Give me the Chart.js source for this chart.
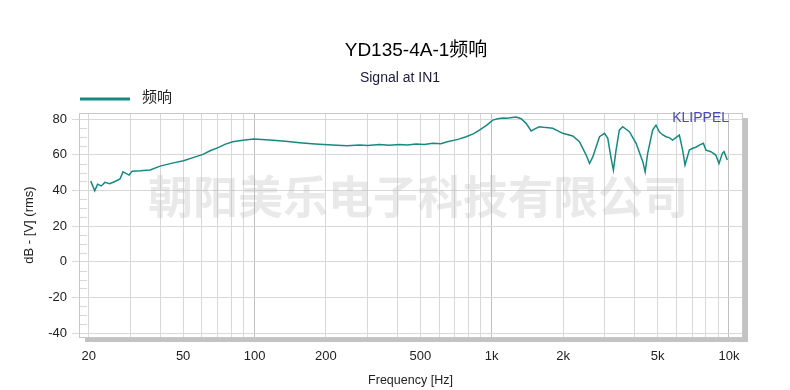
<!DOCTYPE html>
<html>
<head>
<meta charset="utf-8">
<title>YD135-4A-1频响</title>
<script src="https://cdn.jsdelivr.net/npm/chart.js@4.4.1/dist/chart.umd.min.js"></script>
<style>
	html, body { margin: 0; padding: 0; background: #fff; }
	#chart_wrap { width: 790px; height: 390px; position: relative; }
</style>
</head>
<body>
<div id="chart_wrap"><canvas id="chart_frekuensi"></canvas></div>
<script>
// frequency [Hz] of every point
var freqs = [
	20.4, 21.2, 21.8, 22.6, 23.4, 24.5, 25.8, 27.1, 27.9, 28.7, 29.6, 30.5, 33, 36.3, 40,
	45, 50.2, 55, 60.6, 65, 70.6, 75, 80.9, 90.9, 99.2, 115.9, 135, 155, 180, 213,
	245, 277, 300, 336, 370, 408, 440, 480, 520, 564, 610, 650, 720, 780, 840,
	887, 950, 1010, 1060, 1113, 1160, 1200, 1267, 1330, 1396, 1466, 1520, 1588, 1650, 1700,
	1807, 1900, 1992, 2194, 2343, 2501, 2584, 2669, 2847, 2988, 3084, 3186, 3258, 3343, 3450,
	3564, 3805, 4061, 4333, 4434, 4543, 4767, 4925, 5086, 5250, 5426, 5600, 5790, 6178, 6379,
	6528, 6808, 7030, 7250, 7500, 7800, 8002, 8393, 8600, 8800, 9080, 9380, 9530, 9840
];
// level [dB] at those frequencies
var levels = [
	45.2, 39.8, 43.5, 42.5, 44.5, 43.8, 45.0, 46.4, 50.4, 49.5, 48.6, 50.8, 51.0, 51.4, 53.6,
	55.3, 56.6, 58.4, 60.2, 62.2, 64.1, 65.8, 67.3, 68.2, 68.8, 68.2, 67.5, 66.7, 66.0, 65.4,
	65.0, 65.4, 65.2, 65.7, 65.3, 65.8, 65.4, 66.0, 65.7, 66.4, 66.2, 67.3, 68.6, 70.1, 71.8,
	73.8, 76.5, 79.4, 80.2, 80.6, 80.4, 80.8, 81.2, 80.2, 77.6, 73.3, 74.5, 75.7, 75.4, 75.3,
	74.8, 73.4, 72.0, 70.5, 67.3, 59.8, 55.1, 58.9, 70.1, 72.0, 69.2, 58.0, 51.4, 62.6, 73.8,
	75.7, 72.9, 66.4, 56.1, 50.4, 60.8, 73.8, 76.6, 72.9, 71.2, 70.1, 69.6, 68.2, 71.0, 62.6,
	54.2, 62.6, 63.6, 64.2, 65.4, 66.4, 62.6, 61.7, 60.8, 59.8, 55.1, 60.8, 61.7, 57.0
];

var gridFreqs = [];
[10, 100, 1000].forEach(function (dec) {
	for (var k = 2; k <= 10; k++) { gridFreqs.push(dec * k); }
});
var labelFreqs = [20, 50, 100, 200, 500, 1000, 2000, 5000, 10000];
var labelTexts = ['20', '50', '100', '200', '500', '1k', '2k', '5k', '10k'];
var dbTicks = [-40, -20, 0, 20, 40, 60, 80];

var judul = 'YD135-4A-1频响';
var subJudul = 'Signal at IN1';
var namaSeri = '频响';
var watermark = '朝阳美乐电子科技有限公司';

var warnaKurva = '#178a80';
var warnaGrid = '#d8d8d8';
var fontDasar = '"Liberation Sans", Arial, "Noto Sans CJK SC", sans-serif';

var grafik = {
	startUp: function () {
		window.onload = function () {
			grafik.chartFrekuensi();
		};
	}, // end - startUp

	hiasan: {
		id: 'hiasan',
		beforeDraw: function (chart) {
			var ctx = chart.ctx;
			var a = chart.chartArea;
			ctx.save();
			// shadow of the plot frame
			ctx.fillStyle = '#c3c3c3';
			ctx.fillRect(a.left + 6, a.top + 5, a.right - a.left, a.bottom - a.top);
			ctx.fillStyle = '#ffffff';
			ctx.fillRect(a.left, a.top, a.right - a.left, a.bottom - a.top);
			ctx.restore();
		},
		beforeDatasetsDraw: function (chart) {
			var ctx = chart.ctx;
			var a = chart.chartArea;
			var y = chart.scales.y;
			ctx.save();

			// watermark
			ctx.fillStyle = 'rgba(175, 175, 175, 0.28)';
			ctx.font = 'bold 45px "Noto Sans CJK SC", sans-serif';
			ctx.textAlign = 'center';
			ctx.textBaseline = 'middle';
			ctx.fillText(watermark, 418, 197);

			// minor ticks every 5 dB
			ctx.strokeStyle = warnaGrid;
			ctx.lineWidth = 1;
			for (var v = -40; v <= 80; v += 5) {
				if (v % 20 === 0) continue;
				var py = Math.round(y.getPixelForValue(v)) + 0.5;
				ctx.beginPath();
				ctx.moveTo(a.left, py);
				ctx.lineTo(a.left + 8, py);
				ctx.stroke();
			}

			// frame
			ctx.strokeStyle = '#c8c8c8';
			ctx.strokeRect(Math.round(a.left) + 0.5, Math.round(a.top) + 0.5, Math.round(a.right - a.left), Math.round(a.bottom - a.top));

			// KLIPPEL
			ctx.fillStyle = '#4a4ab4';
			ctx.font = '14px ' + fontDasar;
			ctx.textAlign = 'right';
			ctx.fillText('KLIPPEL', 729, 118);
			ctx.restore();
		},
		afterDraw: function (chart) {
			var ctx = chart.ctx;
			ctx.save();
			ctx.textBaseline = 'middle';

			ctx.fillStyle = '#000';
			ctx.font = '19px ' + fontDasar;
			ctx.textAlign = 'center';
			ctx.fillText(judul, 416, 51);

			ctx.fillStyle = '#1a1a3a';
			ctx.font = '14px ' + fontDasar;
			ctx.fillText(subJudul, 400, 78);

			// legend
			ctx.strokeStyle = warnaKurva;
			ctx.lineWidth = 3;
			ctx.beginPath();
			ctx.moveTo(80, 99);
			ctx.lineTo(130, 99);
			ctx.stroke();
			ctx.fillStyle = '#222';
			ctx.font = '15px ' + fontDasar;
			ctx.textAlign = 'left';
			ctx.fillText(namaSeri, 142, 98);
			ctx.restore();
		}
	}, // end - hiasan

	chartFrekuensi: function () {
		var titik = [];
		for (var i = 0; i < freqs.length; i++) {
			titik.push({ x: freqs[i], y: levels[i] });
		}

		new Chart('chart_frekuensi', {
			type: 'line',
			data: {
				datasets: [
					{
						label: namaSeri,
						data: titik,
						borderColor: warnaKurva,
						backgroundColor: warnaKurva,
						borderWidth: 1.5,
						pointRadius: 0,
						tension: 0
					}
				]
			},
			plugins: [grafik.hiasan],
			options: {
				responsive: true,
				maintainAspectRatio: false,
				animation: false,
				layout: { padding: { top: 113, left: 0, right: 48, bottom: 0 } },
				scales: {
					x: {
						type: 'logarithmic',
						min: 18.2,
						max: 11350,
						afterFit: function (scale) { scale.height = 53; },
						afterBuildTicks: function (scale) {
							scale.ticks = gridFreqs.map(function (f) { return { value: f }; });
						},
						ticks: {
							autoSkip: false,
							maxRotation: 0,
							padding: 12,
							color: '#222',
							font: { family: fontDasar, size: 13 },
							callback: function (value) {
								var idx = labelFreqs.indexOf(value);
								return idx >= 0 ? labelTexts[idx] : '';
							}
						},
						grid: {
							drawTicks: false,
							color: function (c) {
								var v = c.tick ? c.tick.value : 0;
								return (v === 100 || v === 1000 || v === 10000) ? '#c0c0c0' : warnaGrid;
							},
							lineWidth: 1
						},
						border: { display: false },
						title: {
							display: true,
							text: 'Frequency [Hz]',
							color: '#222',
							font: { family: fontDasar, size: 12.5 },
							padding: { top: 0, bottom: 2 }
						}
					},
					y: {
						min: -42.2,
						max: 83.4,
						afterFit: function (scale) { scale.width = 79; },
						afterBuildTicks: function (scale) {
							scale.ticks = dbTicks.map(function (v) { return { value: v }; });
						},
						ticks: {
							padding: 5,
							color: '#222',
							font: { family: fontDasar, size: 13 }
						},
						grid: {
							color: warnaGrid,
							tickLength: 7
						},
						border: { display: false },
						title: {
							display: true,
							text: 'dB - [V] (rms)',
							color: '#222',
							font: { family: fontDasar, size: 13 },
							padding: { top: 22, bottom: 0 }
						}
					}
				},
				plugins: {
					legend: { display: false },
					title: { display: false },
					tooltip: { enabled: false }
				}
			}
		});
	} // end - chartFrekuensi
};

grafik.startUp();
</script>
</body>
</html>
